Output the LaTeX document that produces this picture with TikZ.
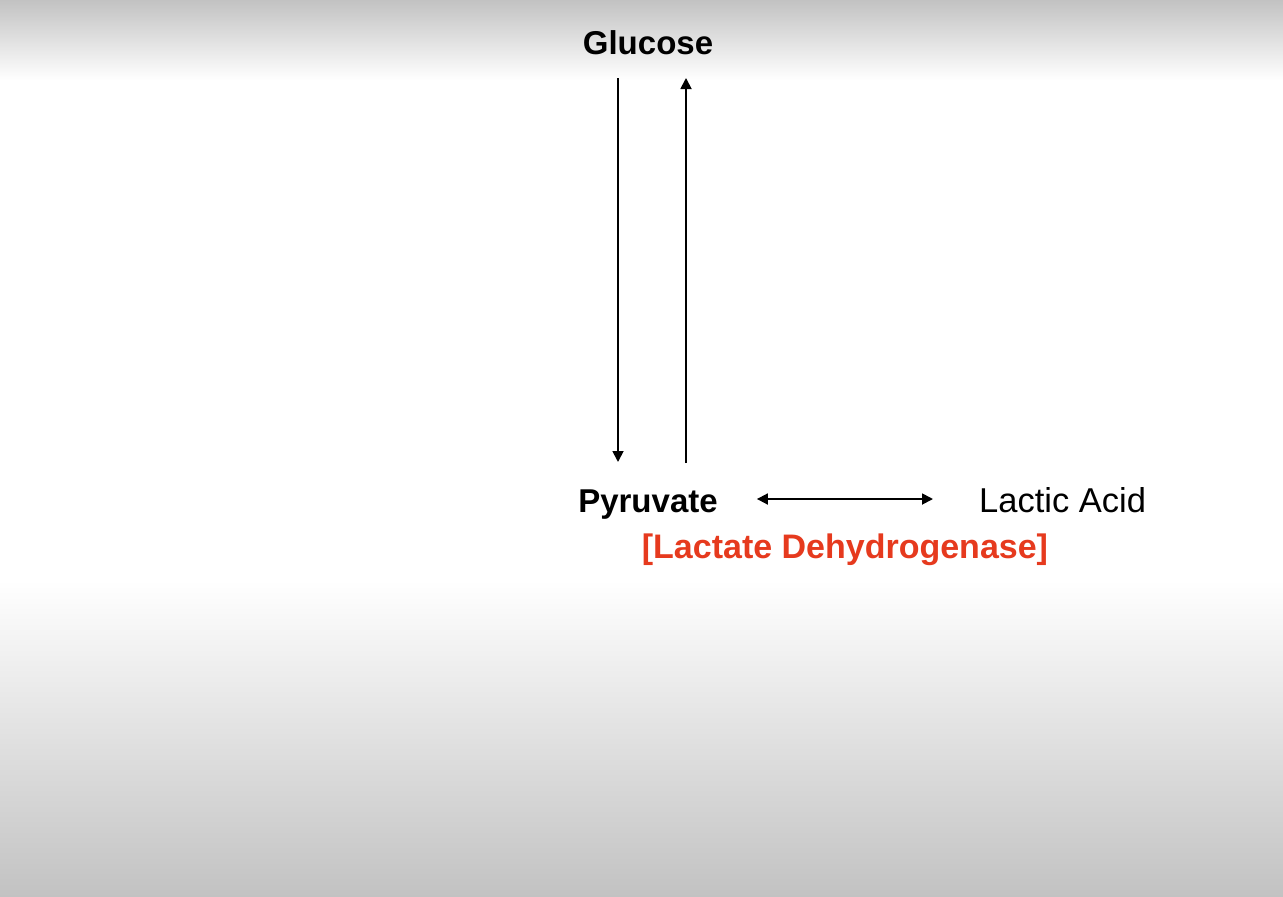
\documentclass[tikz,border=0pt]{standalone}
\usepackage{fontspec}
\setmainfont{Liberation Sans}
\usetikzlibrary{arrows.meta}
\definecolor{ldhred}{HTML}{E63A1E}
\definecolor{bggray}{HTML}{C2C2C2}
\begin{document}
\begin{tikzpicture}[x=1pt,y=-1pt,
  lbl/.style={inner sep=0pt,anchor=base,font=\fontsize{33}{36}\selectfont},
  conn/.style={line width=1.8pt,-{Triangle[length=11pt,width=11pt]}},
  dconn/.style={line width=1.8pt,{Triangle[length=11pt,width=11pt]}-{Triangle[length=11pt,width=11pt]}}]
\useasboundingbox (0,0) rectangle (1283,897);
\fill[white] (0,0) rectangle (1283,897);
\shade[top color=bggray,bottom color=white] (0,0) rectangle (1283,80);
\shade[top color=white,bottom color=bggray] (0,580) rectangle (1283,897);
\node[lbl,font=\fontsize{33}{36}\selectfont\bfseries] (glucose) at (648,54) {Glucose};
\node[lbl,font=\fontsize{33}{36}\selectfont\bfseries] (pyruvate) at (648,512) {Pyruvate};
\node[lbl,anchor=base west,font=\fontsize{34.5}{38}\selectfont] (lactic) at (979,512) {Lactic Acid};
\node[lbl,text=ldhred,font=\fontsize{34}{38}\selectfont\bfseries] (ldh) at (845,558) {[Lactate Dehydrogenase]};
\draw[conn] ([xshift=-30pt,yshift=-24pt]glucose.base) -- ([xshift=-30pt,yshift=50pt]pyruvate.base);
\draw[conn] ([xshift=38pt,yshift=49pt]pyruvate.base) -- ([xshift=38pt,yshift=-24pt]glucose.base);
\draw[dconn] ([xshift=39pt,yshift=13pt]pyruvate.base east) -- ([xshift=-46pt,yshift=13pt]lactic.base west);
\end{tikzpicture}
\end{document}
